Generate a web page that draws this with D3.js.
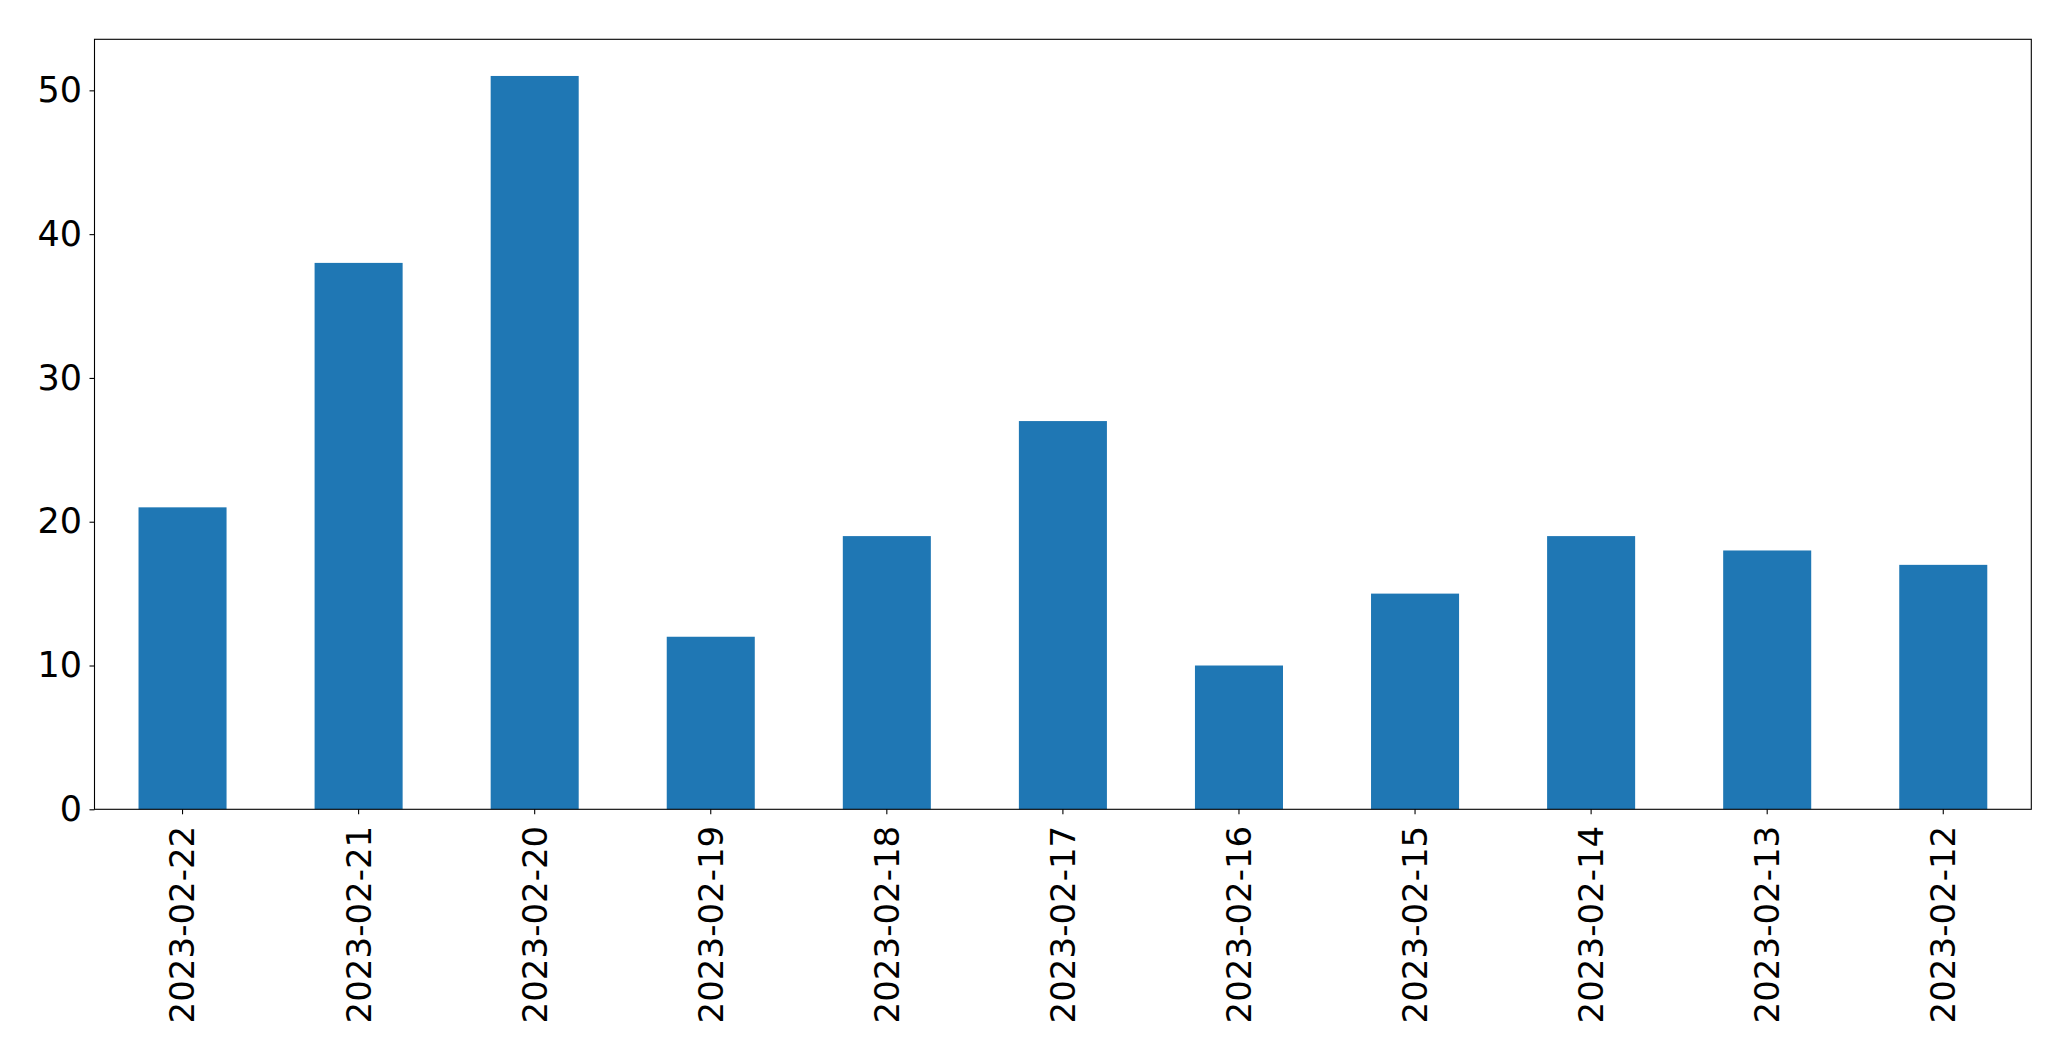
<!DOCTYPE html>
<html>
<head>
<meta charset="utf-8">
<script src="https://cdn.jsdelivr.net/npm/d3@7"></script>
<style>
    body { margin: 0; background: #ffffff; }
    .tick text { font-family: "DejaVu Sans", sans-serif; font-size: 34px; fill: #000000; }
</style>
</head>
<body>
<script>

// Data
var dates = ["2023-02-22", "2023-02-21", "2023-02-20", "2023-02-19", "2023-02-18",
             "2023-02-17", "2023-02-16", "2023-02-15", "2023-02-14", "2023-02-13", "2023-02-12"];
var counts = [21, 38, 51, 12, 19, 27, 10, 15, 19, 18, 17];
var yTicks = [0, 10, 20, 30, 40, 50];

/*
 * Main function
 */

window.onload = function() {
    barChart();
};

/*
 * Draws the bar chart
 */

function barChart() {

    // Dimensions of the figure
    var svgWidth = 2071;
    var svgHeight = 1061;

    // Plot area edges
    var left = 94.5;
    var right = 2031.3;
    var top = 39.3;
    var bottom = 809.3;
    var chartWidth = right - left;
    var chartHeight = bottom - top;

    const svg = d3.select("body").append("svg")
        .attr("width", svgWidth)
        .attr("height", svgHeight);

    const chart = svg.append("g")
        .attr("transform", `translate(${left}, ${top})`);

    // Scales
    const xScale = d3.scaleBand()
        .domain(dates)
        .range([0, chartWidth])
        .paddingInner(0.5)
        .paddingOuter(0.25);

    const yScale = d3.scaleLinear()
        .domain([0, d3.max(counts) * 1.05])
        .range([chartHeight, 0]);

    // Draw bars
    chart.selectAll(".bar")
        .data(counts)
        .enter()
        .append("rect")
        .attr("class", "bar")
        .attr("x", function(d, i) { return xScale(dates[i]); })
        .attr("y", function(d) { return yScale(d); })
        .attr("width", xScale.bandwidth())
        .attr("height", function(d) { return chartHeight - yScale(d); })
        .attr("fill", "#1f77b4");

    // Draw y-axis
    var yAxis = chart.append("g")
        .call(d3.axisLeft(yScale)
            .tickValues(yTicks)
            .tickSize(5)
            .tickPadding(7.5));
    yAxis.select(".domain").remove();
    yAxis.selectAll(".tick line").attr("stroke", "#000").attr("stroke-width", 1.1);
    yAxis.selectAll(".tick text").style("font-size", "35px");

    // Draw x-axis with rotated labels
    var xAxis = chart.append("g")
        .attr("transform", `translate(0, ${chartHeight})`)
        .call(d3.axisBottom(xScale)
            .tickSize(5)
            .tickPadding(0));
    xAxis.select(".domain").remove();
    xAxis.selectAll(".tick line").attr("stroke", "#000").attr("stroke-width", 1.1);
    xAxis.selectAll(".tick text")
        .attr("transform", "rotate(-90)")
        .attr("text-anchor", "end")
        .attr("x", -16.5)
        .attr("y", 0)
        .attr("dy", "0.35em");

    // Draw frame round the plot area
    chart.append("rect")
        .attr("x", 0)
        .attr("y", 0)
        .attr("width", chartWidth)
        .attr("height", chartHeight)
        .attr("fill", "none")
        .attr("stroke", "#000")
        .attr("stroke-width", 1.1);
};

</script>
</body>
</html>
